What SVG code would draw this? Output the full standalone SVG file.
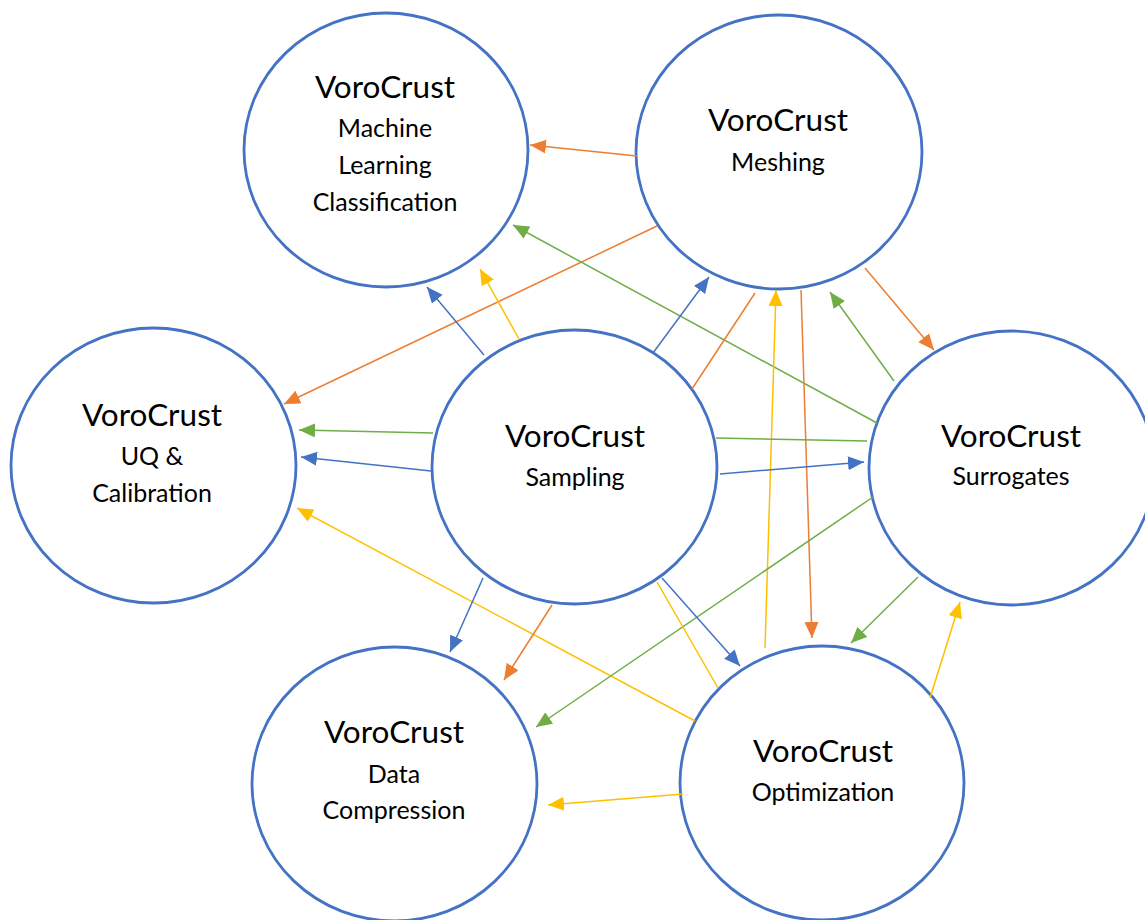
<svg xmlns="http://www.w3.org/2000/svg" width="1145" height="920" viewBox="0 0 1145 920">
<style>
.node{fill:#fff;stroke:#4472C4;stroke-width:2.8}
.t{font-family:Lato,"Open Sans","Liberation Sans",sans-serif;fill:#000;text-anchor:middle}
.h{font-size:31.5px}
.s{font-size:25px}
.c{fill:none;stroke-width:1.5}
.b{stroke:#4472C4}.o{stroke:#ED7D31}.g{stroke:#70AD47}.y{stroke:#FFC000}
</style>
<defs>
<marker id="ab" markerUnits="userSpaceOnUse" markerWidth="18" markerHeight="16" refX="16" refY="7" orient="auto"><path d="M0,0 L16,7 L0,14 z" fill="#4472C4"/></marker>
<marker id="ao" markerUnits="userSpaceOnUse" markerWidth="18" markerHeight="16" refX="16" refY="7" orient="auto"><path d="M0,0 L16,7 L0,14 z" fill="#ED7D31"/></marker>
<marker id="ag" markerUnits="userSpaceOnUse" markerWidth="18" markerHeight="16" refX="16" refY="7" orient="auto"><path d="M0,0 L16,7 L0,14 z" fill="#70AD47"/></marker>
<marker id="ay" markerUnits="userSpaceOnUse" markerWidth="18" markerHeight="16" refX="16" refY="7" orient="auto"><path d="M0,0 L16,7 L0,14 z" fill="#FFC000"/></marker>
</defs>
<rect width="1145" height="920" fill="#fff"/>
<g id="ml">
<ellipse class="node" cx="386" cy="150" rx="142" ry="137"/>
<text class="t h" x="385" y="98">VoroCrust</text>
<text class="t s" x="385" y="137">Machine</text>
<text class="t s" x="385" y="174">Learning</text>
<text class="t s" x="385" y="211">Classification</text>
</g>
<g id="meshing">
<ellipse class="node" cx="779" cy="152" rx="143" ry="137"/>
<text class="t h" x="778" y="131">VoroCrust</text>
<text class="t s" x="778" y="171">Meshing</text>
</g>
<g id="uq">
<ellipse class="node" cx="153.5" cy="465.5" rx="142.5" ry="137.5"/>
<text class="t h" x="152" y="426">VoroCrust</text>
<text class="t s" x="152" y="465">UQ &amp;</text>
<text class="t s" x="152" y="502">Calibration</text>
</g>
<g id="sampling">
<ellipse class="node" cx="574.5" cy="467" rx="142.5" ry="137"/>
<text class="t h" x="575" y="447">VoroCrust</text>
<text class="t s" x="575" y="486">Sampling</text>
</g>
<g id="surrogates">
<ellipse class="node" cx="1011.5" cy="468" rx="142.5" ry="137"/>
<text class="t h" x="1011" y="447">VoroCrust</text>
<text class="t s" x="1011" y="485">Surrogates</text>
</g>
<g id="compression">
<ellipse class="node" cx="394.5" cy="784" rx="142.5" ry="137"/>
<text class="t h" x="394" y="743">VoroCrust</text>
<text class="t s" x="394" y="783">Data</text>
<text class="t s" x="394" y="819">Compression</text>
</g>
<g id="optimization">
<ellipse class="node" cx="822" cy="783" rx="142" ry="137"/>
<text class="t h" x="823" y="762">VoroCrust</text>
<text class="t s" x="823" y="801">Optimization</text>
</g>
<g id="connectors">
<line class="c o" x1="637" y1="156" x2="530" y2="145" marker-end="url(#ao)"/>
<line class="c o" x1="657" y1="226" x2="284" y2="404" marker-end="url(#ao)"/>
<line class="c g" x1="877" y1="423" x2="513" y2="225" marker-end="url(#ag)"/>
<line class="c b" x1="484" y1="355" x2="427" y2="287" marker-end="url(#ab)"/>
<line class="c y" x1="519" y1="339" x2="480" y2="269" marker-end="url(#ay)"/>
<line class="c b" x1="653" y1="353" x2="709" y2="277" marker-end="url(#ab)"/>
<line class="c o" x1="692" y1="389" x2="755" y2="293"/>
<line class="c y" x1="765" y1="648" x2="776" y2="290" marker-end="url(#ay)"/>
<line class="c o" x1="801" y1="290" x2="812" y2="638" marker-end="url(#ao)"/>
<line class="c g" x1="894" y1="381" x2="830" y2="292" marker-end="url(#ag)"/>
<line class="c o" x1="865" y1="268" x2="934" y2="350" marker-end="url(#ao)"/>
<path class="c g" d="M867,441 L716,438 M433,433 L299,430" marker-end="url(#ag)"/>
<line class="c b" x1="431" y1="471" x2="301" y2="457" marker-end="url(#ab)"/>
<line class="c b" x1="720" y1="474" x2="864" y2="462" marker-end="url(#ab)"/>
<line class="c y" x1="695" y1="721" x2="297" y2="508" marker-end="url(#ay)"/>
<line class="c b" x1="483" y1="578" x2="450" y2="652" marker-end="url(#ab)"/>
<line class="c o" x1="552" y1="605" x2="504" y2="680" marker-end="url(#ao)"/>
<line class="c g" x1="873" y1="497" x2="536" y2="727" marker-end="url(#ag)"/>
<line class="c b" x1="662" y1="578" x2="740" y2="666" marker-end="url(#ab)"/>
<line class="c y" x1="718" y1="688" x2="657" y2="582"/>
<line class="c g" x1="918" y1="577" x2="851" y2="643" marker-end="url(#ag)"/>
<line class="c y" x1="930" y1="698" x2="960" y2="602" marker-end="url(#ay)"/>
<line class="c y" x1="683" y1="794" x2="548" y2="805" marker-end="url(#ay)"/>
</g>
</svg>
